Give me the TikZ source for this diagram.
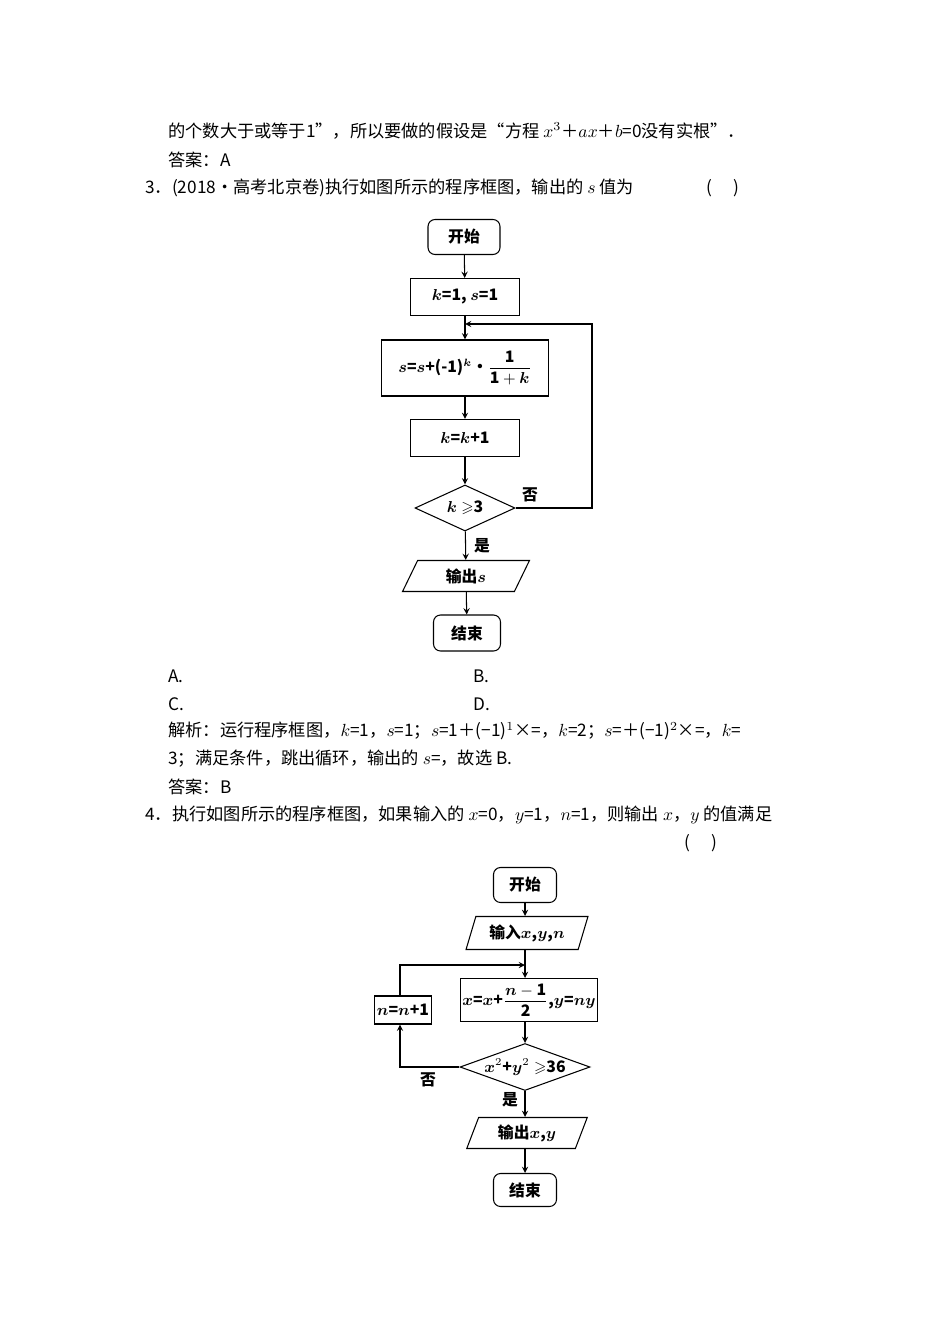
\documentclass[tikz,border=0pt]{standalone}
\usepackage{amsmath,amssymb,bm}
\usepackage{fontspec}
\setmainfont{Noto Sans CJK SC}
\usetikzlibrary{shapes.geometric}
\tikzset{
  txt/.style={anchor=west,inner sep=0pt,font=\fontsize{9.8pt}{11pt}\selectfont},
  blk/.style={draw,semithick,inner sep=1pt,font=\bfseries\fontsize{9pt}{11pt}\selectfont},
  term/.style={blk,rounded corners=4pt},
  io/.style={blk,trapezium,trapezium left angle=70,trapezium right angle=110,trapezium stretches=true},
  dec/.style={blk,diamond,inner sep=0pt},
  flow/.style={->,>=stealth,semithick}
}
\begin{document}
\begin{tikzpicture}[x=0.02cm,y=-0.02cm]
\useasboundingbox (0,0) rectangle (950,1344);
% text
\node[txt] at (168,131) {的个数大于或等于1”，所以要做的假设是“方程 $x^3$＋$ax$＋$b$=0没有实根”．};
\node[txt] at (168,160) {答案：A};
\node[txt] at (145,188) {3．(2018·高考北京卷)执行如图所示的程序框图，输出的 $s$ 值为};
\node[txt] at (706,188) {(\quad\ )};
\node[txt] at (168,676) {A.};
\node[txt] at (473,676) {B.};
\node[txt] at (168,704) {C.};
\node[txt] at (473,704) {D.};
\node[txt] at (168,731) {解析：运行程序框图，$k$=1，$s$=1；$s$=1＋(−1)$^1$×=，$k$=2；$s$=＋(−1)$^2$×=，$k$=};
\node[txt] at (168,759) {3；满足条件，跳出循环，输出的 $s$=，故选 B.};
\node[txt] at (168,787) {答案：B};
\node[txt] at (145,815) {4．执行如图所示的程序框图，如果输入的 $x$=0，$y$=1，$n$=1，则输出 $x$，$y$ 的值满足};
\node[txt] at (684,843) {(\quad\ )};
% chart 1
\node[term,minimum width=1.44cm,minimum height=0.7cm] (st1) at (464,237) {开始};
\node[blk,minimum width=2.18cm,minimum height=0.74cm] (ini1) at (465,297) {$\bm{k}$=1, $\bm{s}$=1};
\node[blk,minimum width=3.34cm,minimum height=1.12cm] (sum1) at (465,368) {$\bm{s}$=$\bm{s}$+(-1)$^{\bm{k}}$·$\dfrac{\mathbf{1}}{\mathbf{1}+\bm{k}}$};
\node[blk,minimum width=2.18cm,minimum height=0.74cm] (inc1) at (465,438) {$\bm{k}$=$\bm{k}$+1};
\node[dec,minimum width=2cm,minimum height=0.92cm,aspect=2.2] (chk1) at (465,508) {$\bm{k}\geqslant$3};
\node[io,minimum width=2.54cm,minimum height=0.62cm] (out1) at (466,576) {输出$\bm{s}$};
\node[term,minimum width=1.34cm,minimum height=0.72cm] (end1) at (467,633) {结束};
\coordinate (c1a) at (592,508);
\coordinate (c1b) at (592,324);
\coordinate (c1c) at (465,324);
\draw[flow] (st1) -- (ini1);
\draw[flow] (ini1) -- (sum1);
\draw[flow] (sum1) -- (inc1);
\draw[flow] (inc1) -- (chk1);
\draw[flow] (chk1) -- (out1);
\draw[flow] (out1) -- (end1);
\draw[flow] (chk1.east) -- (c1a) -- (c1b) -- (c1c);
\node[font=\bfseries\fontsize{9pt}{11pt}\selectfont] at (530,495) {否};
\node[font=\bfseries\fontsize{9pt}{11pt}\selectfont] at (482,546) {是};
% chart 2
\node[term,minimum width=1.26cm,minimum height=0.7cm] (st2) at (525,885) {开始};
\node[io,minimum width=2.44cm,minimum height=0.66cm] (inp2) at (527,933) {输入$\bm{x}$,$\bm{y}$,$\bm{n}$};
\node[blk,minimum width=2.66cm,minimum height=0.86cm] (upd2) at (529,1000) {$\bm{x}$=$\bm{x}$+$\dfrac{\bm{n}-\mathbf{1}}{\mathbf{2}}$,$\bm{y}$=$\bm{ny}$};
\node[blk,minimum width=1.14cm,minimum height=0.56cm] (inc2) at (403,1010) {$\bm{n}$=$\bm{n}$+1};
\node[dec,minimum width=2.6cm,minimum height=0.94cm,aspect=2.8] (chk2) at (525,1067) {$\bm{x}^2$+$\bm{y}^2\geqslant$36};
\node[io,minimum width=2.42cm,minimum height=0.62cm] (out2) at (527,1133) {输出$\bm{x}$,$\bm{y}$};
\node[term,minimum width=1.26cm,minimum height=0.66cm] (end2) at (525,1190) {结束};
\coordinate (c2a) at (400,1067);
\coordinate (c2b) at (400,965);
\coordinate (c2c) at (525,965);
\draw[flow] (st2) -- (inp2.north -| st2);
\draw[flow] (inp2.south -| st2) -- (upd2.north -| st2);
\draw[flow] (upd2.south -| st2) -- (chk2);
\draw[flow] (chk2) -- (out2.north -| chk2);
\draw[flow] (out2.south -| chk2) -- (end2);
\draw[flow] (chk2.west) -- (c2a) -- (inc2.south -| c2a);
\draw[flow] (inc2.north -| c2b) -- (c2b) -- (c2c);
\node[font=\bfseries\fontsize{9pt}{11pt}\selectfont] at (428,1080) {否};
\node[font=\bfseries\fontsize{9pt}{11pt}\selectfont] at (510,1100) {是};
\end{tikzpicture}
\end{document}
